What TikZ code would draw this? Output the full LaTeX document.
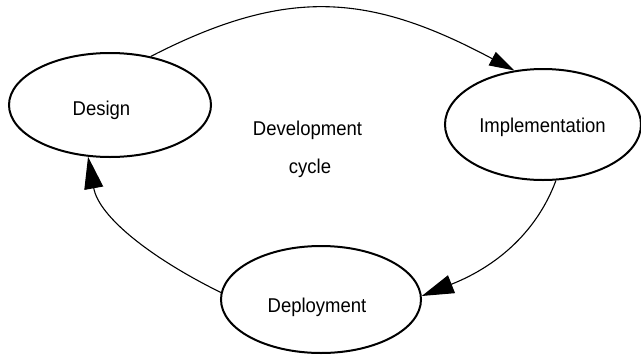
\documentclass[tikz,border=0pt]{standalone}
\usepackage{fontspec}
\setmainfont{Liberation Sans}
\usetikzlibrary{shapes.geometric,arrows.meta}
\newcommand{\tallish}[1]{\scalebox{1}[1.08]{#1}}
\begin{document}
\begin{tikzpicture}[x=1pt,y=-1pt,
  stage/.style={draw,ellipse,line width=2pt,inner sep=0pt},
  txt/.style={font=\fontsize{18.5}{22}\selectfont,inner sep=0pt,anchor=base},
  flow/.style={line width=1.1pt,-{Triangle[length=32pt,width=19pt]}},
  flowsmall/.style={line width=1.1pt,-{Triangle[length=25pt,width=15pt]}}]
  \useasboundingbox (0,0) rectangle (641,357);

  % the three stages
  \node[stage,minimum width=202pt,minimum height=104pt] (design) at (110,105) {};
  \node[stage,minimum width=196pt,minimum height=111pt] (impl) at (543,124.5) {};
  \node[stage,minimum width=200pt,minimum height=107pt] (deploy) at (321,299.5) {};

  % stage names
  \node[txt] (designtext) at (101.5,115) {\tallish{Design}};
  \node[txt] (impltext) at (542.5,132) {\tallish{Implementation}};
  \node[txt] (deploytext) at (317,312) {\tallish{Deployment}};

  % caption in the middle of the cycle
  \node[txt] (cycle1) at (307.5,135) {\tallish{Development}};
  \node[txt] (cycle2) at (310,173) {\tallish{cycle}};

  % connectors
  \draw[flowsmall] (design.50) .. controls (288,-14) and (370,-6.5) .. (impl.118.8);
  \draw[flow] (impl.283.4) .. controls (538,229) and (500,265) .. (deploy.2.5);
  \draw[flow] (deploy.176.3) .. controls (151,258) and (99,217) .. (design.247.5);
\end{tikzpicture}
\end{document}
